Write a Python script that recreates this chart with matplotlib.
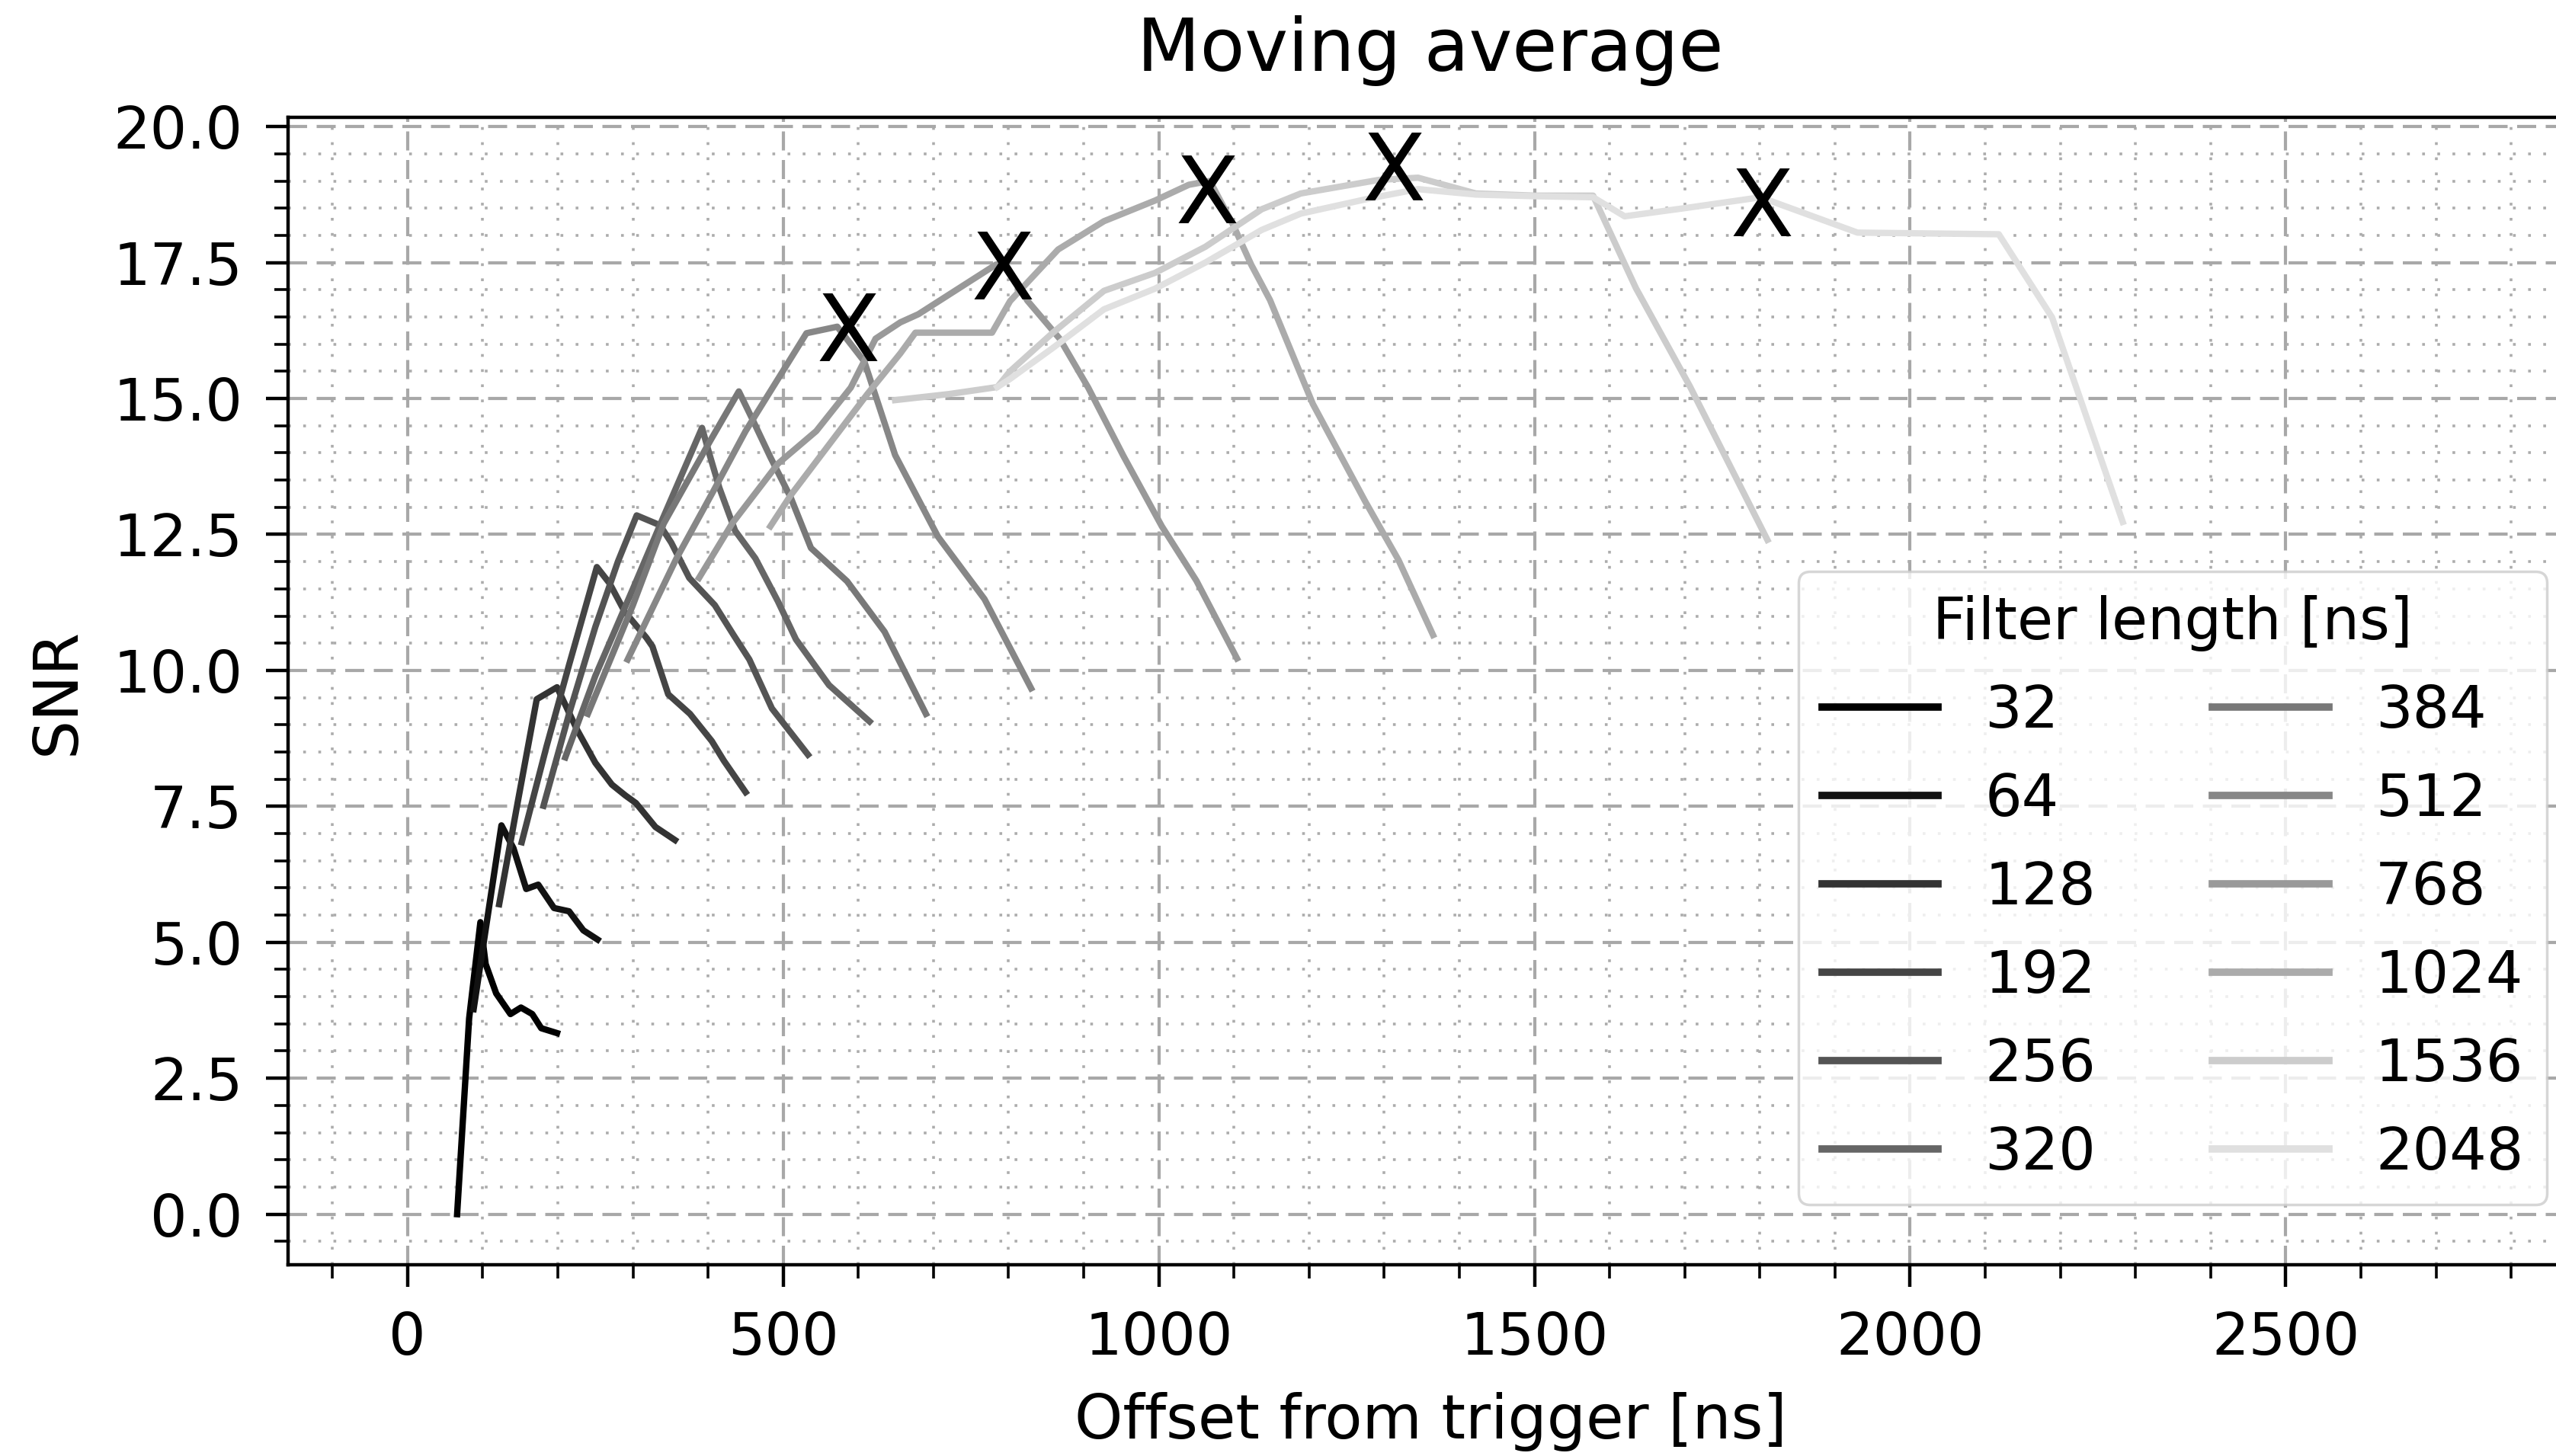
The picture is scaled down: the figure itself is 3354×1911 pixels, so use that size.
import numpy as np
import matplotlib
matplotlib.use("agg")
import matplotlib.pyplot as plt
from matplotlib.ticker import MultipleLocator, FormatStrFormatter

# filter lengths in ns, one curve each
filter_lengths = [32, 64, 128, 192, 256, 320, 384, 512, 768, 1024, 1536, 2048]

# offset from trigger [ns] and SNR for every filter length
x_32 = [66, 82, 97, 104, 118, 137, 151, 166, 178, 199]
snr_32 = [0.0, 3.6, 5.37, 4.6, 4.06, 3.68, 3.8, 3.68, 3.42, 3.33]

x_64 = [88, 125, 141, 158, 174, 195, 215, 234, 253]
snr_64 = [3.77, 7.15, 6.73, 5.98, 6.06, 5.63, 5.57, 5.22, 5.05]

x_128 = [122, 147, 172, 199, 226, 250, 272, 290, 304, 330, 356]
snr_128 = [5.7, 7.6, 9.47, 9.69, 8.9, 8.3, 7.9, 7.7, 7.56, 7.12, 6.88]

x_192 = [152, 185, 215, 252, 269, 289, 318, 326, 347, 376, 405, 421, 450]
snr_192 = [6.84, 8.6, 10.1, 11.9, 11.6, 11.08, 10.6, 10.44, 9.56, 9.2, 8.7, 8.34, 7.76]

x_256 = [181, 215, 250, 280, 305, 336, 351, 375, 409, 434, 455, 485, 533]
snr_256 = [7.51, 9.2, 10.8, 12.0, 12.85, 12.67, 12.35, 11.7, 11.2, 10.65, 10.2, 9.3, 8.45]

x_320 = [210, 250, 300, 340, 392, 402, 415, 436, 463, 493, 517, 561, 615]
snr_320 = [8.4, 9.9, 11.5, 12.8, 14.46, 13.97, 13.36, 12.57, 12.06, 11.27, 10.57, 9.73, 9.06]

x_384 = [240, 300, 341, 402, 441, 459, 483, 510, 537, 585, 635, 690]
snr_384 = [9.2, 11.2, 12.7, 14.2, 15.13, 14.62, 13.92, 13.18, 12.25, 11.64, 10.71, 9.2]

x_512 = [293, 358, 408, 450, 495, 531, 572, 608, 649, 706, 768, 830]
snr_512 = [10.2, 12.06, 13.32, 14.4, 15.4, 16.2, 16.32, 15.68, 13.96, 12.46, 11.31, 9.67]

x_768 = [388, 432, 493, 544, 590, 623, 656, 680, 783, 795, 825, 868, 906, 953, 1004, 1050, 1104]
snr_768 = [11.7, 12.7, 13.8, 14.4, 15.2, 16.1, 16.4, 16.55, 17.46, 17.5, 16.8, 16.1, 15.2, 13.94, 12.65, 11.65, 10.22]

x_1024 = [483, 510, 561, 612, 656, 676, 778, 802, 866, 927, 995, 1040, 1068, 1099, 1123, 1148, 1205, 1275, 1319, 1365]
snr_1024 = [12.65, 13.22, 14.15, 15.08, 15.83, 16.21, 16.21, 16.79, 17.74, 18.26, 18.64, 18.93, 19.0, 18.19, 17.46, 16.81, 14.9, 13.1, 12.03, 10.65]

x_1536 = [649, 720, 785, 802, 859, 927, 995, 1062, 1137, 1189, 1293, 1345, 1422, 1500, 1578, 1635, 1707, 1810]
snr_1536 = [14.97, 15.08, 15.21, 15.5, 16.21, 16.98, 17.31, 17.79, 18.48, 18.77, 19.02, 19.06, 18.77, 18.73, 18.73, 17.03, 15.22, 12.4]

x_2048 = [785, 802, 859, 927, 995, 1062, 1137, 1189, 1281, 1345, 1422, 1500, 1578, 1620, 1700, 1801, 1930, 2118, 2189, 2283]
snr_2048 = [15.21, 15.36, 15.93, 16.64, 17.02, 17.5, 18.1, 18.4, 18.68, 18.85, 18.75, 18.72, 18.7, 18.35, 18.5, 18.7, 18.05, 18.02, 16.49, 12.73]

# best points marked with an X
x_best = [587, 792, 1064, 1313, 1803]
snr_best = [16.32, 17.45, 18.86, 19.28, 18.62]

curves_x = [x_32, x_64, x_128, x_192, x_256, x_320, x_384, x_512, x_768, x_1024, x_1536, x_2048]
curves_y = [snr_32, snr_64, snr_128, snr_192, snr_256, snr_320, snr_384, snr_512, snr_768, snr_1024, snr_1536, snr_2048]
gray_levels = [0.0, 0.07, 0.2, 0.27, 0.33, 0.4, 0.47, 0.53, 0.6, 0.67, 0.8, 0.88]

W, H = 3354, 1911
fig = plt.figure(figsize=(W / 100, H / 100), dpi=100)
ax_left, ax_right, ax_top, ax_bottom = 378, 3376, 154, 1660
ax = fig.add_axes([ax_left / W, 1 - ax_bottom / H, (ax_right - ax_left) / W, (ax_bottom - ax_top) / H])

for L, xs, ys, g in zip(filter_lengths, curves_x, curves_y, gray_levels):
    ax.plot(xs, ys, color=str(g), linewidth=6, label=str(L))

ax.plot(x_best, snr_best, linestyle="none", marker=r"$\mathrm{X}$", markersize=64,
        color="black", markeredgewidth=0)

ax.set_xlim(-159, 2882)
ax.set_ylim(-0.93, 20.17)
ax.xaxis.set_major_locator(MultipleLocator(500))
ax.xaxis.set_minor_locator(MultipleLocator(100))
ax.yaxis.set_major_locator(MultipleLocator(2.5))
ax.yaxis.set_minor_locator(MultipleLocator(0.5))
ax.yaxis.set_major_formatter(FormatStrFormatter("%.1f"))

ax.grid(which="major", color="#a8a8a8", linestyle=(0, (6, 3)), linewidth=3.0)
ax.grid(which="minor", color="#acacac", linestyle=(0, (1, 4.5)), linewidth=2.6)
ax.set_axisbelow(True)

ax.tick_params(which="major", length=21, width=3.2, labelsize=55, pad=22)
ax.tick_params(which="minor", length=13, width=2.6)
for s in ax.spines.values():
    s.set_linewidth(3.2)

ax.set_title("Moving average", fontsize=69, pad=44)
ax.set_xlabel("Offset from trigger [ns]", fontsize=58)
ax.set_ylabel("SNR", fontsize=58)
aw = ax_right - ax_left
ah = ax_bottom - ax_top
ax.xaxis.set_label_coords(0.5, -(1827 - ax_bottom) / ah)
ax.yaxis.set_label_coords(-(ax_left - 115) / aw, 0.5)

leg = ax.legend(title="Filter length [ns]", ncol=2, fontsize=55, title_fontsize=55,
                loc="upper left", bbox_to_anchor=(2360 / W, 1 - 750 / H),
                bbox_transform=fig.transFigure, borderaxespad=0, framealpha=0.8,
                labelspacing=0.55)
leg.get_frame().set_linewidth(2.5)
for line in leg.get_lines():
    line.set_linewidth(7)

fig.savefig("out.png", dpi=100)
